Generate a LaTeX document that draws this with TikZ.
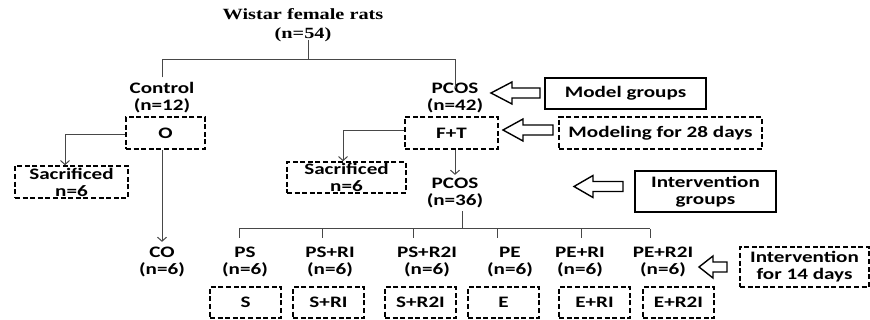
\documentclass[tikz,border=0pt]{standalone}
\usepackage{fontspec}
\setmainfont{Carlito}
\newfontfamily\labfont{Carlito}[FakeStretch=1.32]
\newfontfamily\ttlfont{Liberation Serif}[FakeStretch=1.3]
\usetikzlibrary{arrows.meta}
\newcommand\blockarrow[4]{%
  \draw[line width=1.4pt, line join=miter, fill=white]
    (#1,#3) -- ++(#4,-11) -- ++(0,6) -- (#2,#3-5) -- (#2,#3+5) -- (#1+#4,#3+5) -- ++(0,6) -- cycle;}
\begin{document}
\begin{tikzpicture}[x=1pt,y=-1pt,
  lbl/.style={font=\labfont\bfseries\fontsize{16}{17}\selectfont, align=center, inner sep=0pt},
  ttl/.style={font=\ttlfont\bfseries\fontsize{15.6}{19}\selectfont, align=center, inner sep=0pt},
  dbox/.style={lbl, draw, line width=1.6pt, dash pattern=on 5pt off 2.6pt},
  sbox/.style={lbl, draw, line width=1.6pt},
  conn/.style={draw=black!72, line width=1pt},
  arr/.style={conn, -{Straight Barb[length=4pt,width=9pt]}}]
\useasboundingbox (0,0) rectangle (870,320);

% text nodes
\node[ttl] (title) at (303,25) {Wistar female rats\\(n=54)};
\node[lbl] (control) at (162,98) {Control\\(n=12)};
\node[lbl] (pcos1) at (455,98) {PCOS\\(n=42)};
\node[lbl] (pcos2) at (455,193) {PCOS\\(n=36)};
\node[lbl] (co) at (162,262) {CO\\(n=6)};
\node[lbl] (ps) at (245,262) {PS\\(n=6)};
\node[lbl] (psri) at (330,262) {PS+RI\\(n=6)};
\node[lbl] (psr2i) at (427,262) {PS+R2I\\(n=6)};
\node[lbl] (pe) at (510,262) {PE\\(n=6)};
\node[lbl] (peri) at (580,262) {PE+RI\\(n=6)};
\node[lbl] (per2i) at (663,262) {PE+R2I\\(n=6)};

% boxes
\node[dbox, minimum width=79pt, minimum height=32pt] (obox) at (165.5,133) {O};
\node[dbox, minimum width=93pt, minimum height=32pt] (ftbox) at (451.5,133) {F+T};
\node[dbox, minimum width=113pt, minimum height=32pt] (sac1) at (71.5,182) {Sacrificed\\n=6};
\node[dbox, minimum width=119pt, minimum height=31pt] (sac2) at (346.5,177.5) {Sacrificed\\n=6};
\foreach \n/\x/\t in {bs/245.5/S, bsri/328.5/S+RI, bsr2i/420.5/S+R2I, be/503.5/E, beri/594.5/E+RI, ber2i/678.5/E+R2I}
  \node[dbox, minimum width=71pt, minimum height=31pt] (\n) at (\x,302.5) {\t};

\node[sbox, minimum width=161pt, minimum height=31pt] (mg) at (625.5,93.5) {Model groups};
\node[dbox, minimum width=203pt, minimum height=32pt] (m28) at (660.5,133) {Modeling for 28 days};
\node[sbox, minimum width=141pt, minimum height=41pt] (ig) at (705.5,191.5) {Intervention\\groups};
\node[dbox, minimum width=129pt, minimum height=40pt] (i14) at (804.5,267) {Intervention\\for 14 days};

% connectors
\coordinate (j0) at (308,60);
\draw[conn] (j0 |- title.south) ++(0,-2) -- (j0);
\draw[conn] (control.north) ++(0,-5) |- (pcos1.north |- j0) -- ([yshift=-5pt]pcos1.north);
\coordinate (s1) at (65,135);
\draw[arr] (obox.west |- s1) -- (s1) -- (s1 |- sac1.north);
\draw[arr] (obox.south -| co) -- ([yshift=5pt]co.north);
\coordinate (s2) at (343,131);
\draw[arr] (ftbox.west |- s2) -- (s2) -- (s2 |- sac2.north);
\draw[arr] (ftbox.south -| pcos2) -- ([yshift=3pt]pcos2.north);

\coordinate (bus) at (462,229);
\draw[conn] (bus |- pcos2.south) ++(0,3) -- (bus);
\draw[conn] (239,229) -- (650,229);
\foreach \x in {239,322,413,497,581,650} {
  \coordinate (d\x) at (\x,238);
  \draw[conn] (\x,229) -- (d\x);
}

% block arrows
\blockarrow{491}{540}{93}{21}
\blockarrow{503}{553}{130}{20}
\blockarrow{574}{623}{186.5}{19}
\blockarrow{699}{727}{267}{14}
\end{tikzpicture}
\end{document}
